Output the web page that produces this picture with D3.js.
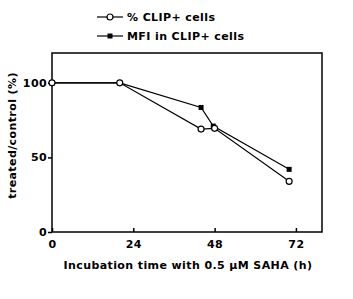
<!DOCTYPE html>
<html>
<head>
<meta charset="utf-8">
<script src="https://cdn.jsdelivr.net/npm/d3@7"></script>
<style>
  body { margin: 0; background: #fff; }
  text { font-family: "DejaVu Sans", Arial, sans-serif; font-weight: bold; fill: #000; letter-spacing: 0.4px; }
</style>
</head>
<body>
<div id="chart"></div>
<script>
// Data
const hoursPct = [0, 20, 44, 48, 70];
const pctClip = [100, 100, 69, 69.5, 34];
const hoursMfi = [0, 20, 44, 47.6, 70];
const mfiClip = [100, 100, 83.5, 71, 42];
const xTicks = [0, 24, 48, 72];
const yTicks = [0, 50, 100];

const width = 353, height = 299;
const margin = { top: 53, right: 31, bottom: 67, left: 52 };

const svg = d3.select("#chart").append("svg")
    .attr("width", width)
    .attr("height", height);

const x = d3.scaleLinear().domain([0, 79.7]).range([margin.left, width - margin.right]);
const y = d3.scaleLinear().domain([0, 120]).range([height - margin.bottom, margin.top]);

// Frame
svg.append("rect")
    .attr("x", margin.left)
    .attr("y", margin.top)
    .attr("width", width - margin.left - margin.right)
    .attr("height", height - margin.top - margin.bottom)
    .attr("fill", "none")
    .attr("stroke", "#000")
    .attr("stroke-width", 1.5);

// X axis ticks (inward)
svg.append("g")
    .attr("transform", `translate(0,${y(0)})`)
    .call(d3.axisBottom(x).tickValues(xTicks).tickSizeInner(-4).tickSizeOuter(0).tickPadding(8))
    .call(g => g.select(".domain").remove())
    .call(g => g.selectAll("line").attr("stroke-width", 1.5))
    .call(g => g.selectAll("text").style("font-size", "11px"));

// Y axis ticks (outward)
svg.append("g")
    .attr("transform", `translate(${x(0)},0)`)
    .call(d3.axisLeft(y).tickValues(yTicks).tickSize(4).tickPadding(1))
    .call(g => g.select(".domain").remove())
    .call(g => g.selectAll("line").attr("stroke-width", 1.5))
    .call(g => g.selectAll("text").style("font-size", "11px"));

// Axis titles
svg.append("text")
    .attr("x", (margin.left + width - margin.right) / 2 + 1)
    .attr("y", 269)
    .attr("text-anchor", "middle")
    .style("font-size", "11px")
    .text("Incubation time with 0.5 µM SAHA (h)");

svg.append("text")
    .attr("transform", `translate(16,${(margin.top + height - margin.bottom) / 2 - 7}) rotate(-90)`)
    .attr("text-anchor", "middle")
    .style("font-size", "11px")
    .text("treated/control (%)");

const line = d3.line().x(d => x(d[0])).y(d => y(d[1]));
const pctPts = d3.zip(hoursPct, pctClip);
const mfiPts = d3.zip(hoursMfi, mfiClip);

svg.append("path").datum(pctPts).attr("d", line)
    .attr("fill", "none").attr("stroke", "#000").attr("stroke-width", 1.2);
svg.append("path").datum(mfiPts).attr("d", line)
    .attr("fill", "none").attr("stroke", "#000").attr("stroke-width", 1.2);

svg.selectAll(".mfi").data(mfiPts).enter().append("rect")
    .attr("class", "mfi")
    .attr("x", d => x(d[0]) - 2.5)
    .attr("y", d => y(d[1]) - 2.5)
    .attr("width", 5).attr("height", 5)
    .attr("fill", "#000");

svg.selectAll(".pct").data(pctPts).enter().append("circle")
    .attr("class", "pct")
    .attr("cx", d => x(d[0]))
    .attr("cy", d => y(d[1]))
    .attr("r", 3)
    .attr("fill", "#fff")
    .attr("stroke", "#000")
    .attr("stroke-width", 1.2);

// Legend
const legend = [
    { label: "% CLIP+ cells", open: true },
    { label: "MFI in CLIP+ cells", open: false }
];
const lg = svg.selectAll(".lg").data(legend).enter().append("g")
    .attr("transform", (d, i) => `translate(97,${17 + i * 19})`);
lg.append("line").attr("x1", 0).attr("x2", 26).attr("stroke", "#000").attr("stroke-width", 1.2);
lg.filter(d => d.open).append("circle")
    .attr("cx", 13).attr("r", 3).attr("fill", "#fff").attr("stroke", "#000").attr("stroke-width", 1.2);
lg.filter(d => !d.open).append("rect")
    .attr("x", 10.5).attr("y", -2.5).attr("width", 5).attr("height", 5).attr("fill", "#000");
lg.append("text")
    .attr("x", 30).attr("dy", "0.35em")
    .style("font-size", "11px")
    .text(d => d.label);
</script>
</body>
</html>
